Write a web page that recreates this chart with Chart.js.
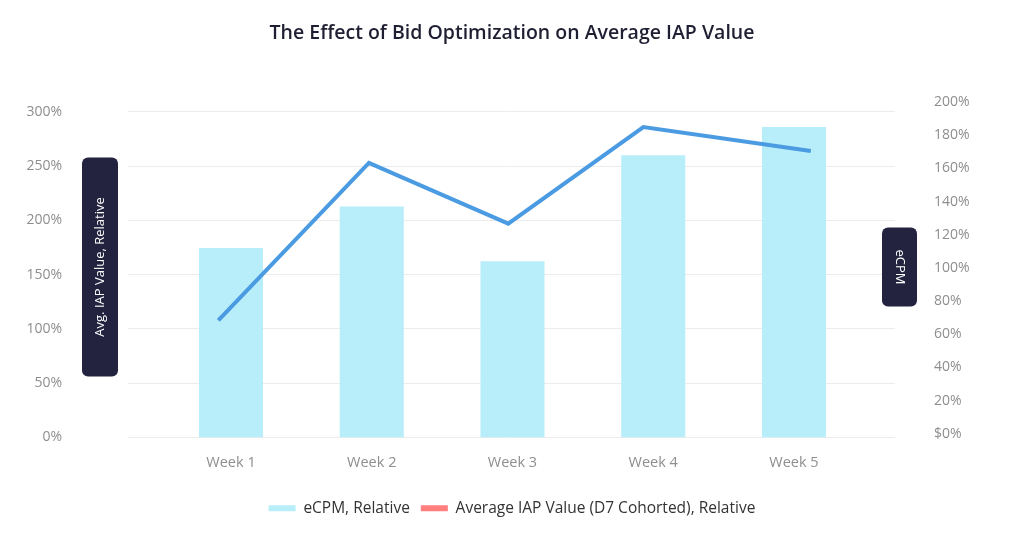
<!DOCTYPE html>
<html>
<head>
<meta charset="utf-8">
<style>
  html, body { margin: 0; padding: 0; background: #fff; }
</style>
</head>
<body>
<canvas id="myChart" width="1024" height="556"></canvas>
<script src="https://cdn.jsdelivr.net/npm/chart.js@4.4.1/dist/chart.umd.min.js"></script>
<script>
    // data
    const weeks = ['Week 1', 'Week 2', 'Week 3', 'Week 4', 'Week 5']
    const ecpmRelative = [112, 137, 104, 168, 185]      // bars, right axis (%)
    const iapRelative = [108, 253, 197, 286, 264]       // line, left axis (%)
    // the line's corners sit a little off the bar centres in the original
    const iapWeekPos = [-0.09, 0.98, 1.97, 2.93, 4.12]
    const rightTickLabels = ['$0%', '20%', '40%', '60%', '80%', '100%', '120%', '140%', '160%', '180%', '200%']

    const leftAxisTitle = 'Avg. IAP Value, Relative'
    const rightAxisTitle = 'eCPM'

    const gray = '#8e8e8e'
    const navy = '#23233f'
    const tickFont = { family: 'Open Sans', size: 14 }

    // dark rounded boxes holding the rotated axis titles
    const axisBoxes = {
        id: 'axisBoxes',
        afterDraw(chart) {
            const { ctx, chartArea } = chart
            const cy = (chartArea.top + chartArea.bottom) / 2 - 2
            const boxes = [
                { x: chartArea.left - 46, w: 36, h: 219, text: leftAxisTitle, rot: -Math.PI / 2 },
                { x: chartArea.right - 13, w: 35, h: 79, text: rightAxisTitle, rot: Math.PI / 2 }
            ]
            ctx.save()
            boxes.forEach(b => {
                ctx.fillStyle = navy
                ctx.beginPath()
                ctx.roundRect(b.x, cy - b.h / 2, b.w, b.h, 6)
                ctx.fill()
                ctx.save()
                ctx.translate(b.x + b.w / 2, cy)
                ctx.rotate(b.rot)
                ctx.fillStyle = '#ffffff'
                ctx.font = '13px "Open Sans"'
                ctx.textAlign = 'center'
                ctx.textBaseline = 'middle'
                ctx.fillText(b.text, 0, 0)
                ctx.restore()
            })
            ctx.restore()
        }
    }

    const ctx = document.getElementById('myChart')
    const myChart = new Chart(ctx, {
        data: {
            datasets: [{
                type: 'line',
                label: 'Average IAP Value (D7 Cohorted), Relative',
                data: iapRelative.map((v, i) => ({ x: iapWeekPos[i], y: v })),
                yAxisID: 'yLeft',
                borderColor: '#4b9be2',
                backgroundColor: '#ff7f7f',
                borderWidth: 4,
                pointRadius: 0,
                tension: 0,
                order: 0
            }, {
                type: 'bar',
                label: 'eCPM, Relative',
                data: ecpmRelative.map((v, i) => ({ x: i, y: v })),
                yAxisID: 'yRight',
                backgroundColor: '#b8eef9',
                borderWidth: 0,
                categoryPercentage: 1,
                barPercentage: 0.455,
                base: -2.2,
                order: 1
            }]
        },
        options: {
            responsive: false,
            animation: false,
            layout: { padding: { left: 0, right: 0, top: 0, bottom: 30 } },
            scales: {
                x: {
                    type: 'linear',
                    offset: false,
                    min: -0.732,
                    max: 4.718,
                    grid: { display: false },
                    border: { display: false },
                    afterFit(scale) { scale.height = 52 },
                    ticks: {
                        stepSize: 1,
                        includeBounds: false,
                        color: gray,
                        font: { family: 'Open Sans', size: 14.5 },
                        padding: 9,
                        callback: v => weeks[v]
                    }
                },
                yLeft: {
                    position: 'left',
                    min: 0,
                    max: 310.6,
                    grid: { color: '#ececec', drawTicks: false },
                    border: { display: false },
                    afterFit(scale) { scale.width = 128 },
                    ticks: {
                        stepSize: 50,
                        includeBounds: false,
                        color: gray,
                        font: tickFont,
                        padding: 66,
                        callback: v => v + '%'
                    }
                },
                yRight: {
                    position: 'right',
                    min: -2.2,
                    max: 201,
                    grid: { display: false },
                    border: { display: false },
                    afterFit(scale) { scale.width = 129 },
                    ticks: {
                        stepSize: 20,
                        includeBounds: false,
                        color: gray,
                        font: tickFont,
                        padding: 31,
                        callback: v => rightTickLabels[Math.round(v / 20)]
                    }
                }
            },
            plugins: {
                title: {
                    display: true,
                    text: 'The Effect of Bid Optimization on Average IAP Value',
                    color: '#1f1f33',
                    font: { family: 'Open Sans', size: 19.5, weight: '600' },
                    padding: { top: 22, bottom: 55 }
                },
                legend: {
                    position: 'bottom',
                    reverse: true,
                    labels: {
                        boxWidth: 27,
                        boxHeight: 6,
                        padding: 11,
                        color: '#333333',
                        font: { family: 'Open Sans', size: 15.5 },
                        generateLabels(chart) {
                            const items = Chart.defaults.plugins.legend.labels.generateLabels(chart)
                            items.forEach(it => { it.lineWidth = 0; it.strokeStyle = it.fillStyle })
                            return items
                        }
                    }
                },
                tooltip: { enabled: false }
            }
        },
        plugins: [axisBoxes]
    });
</script>
</body>
</html>
